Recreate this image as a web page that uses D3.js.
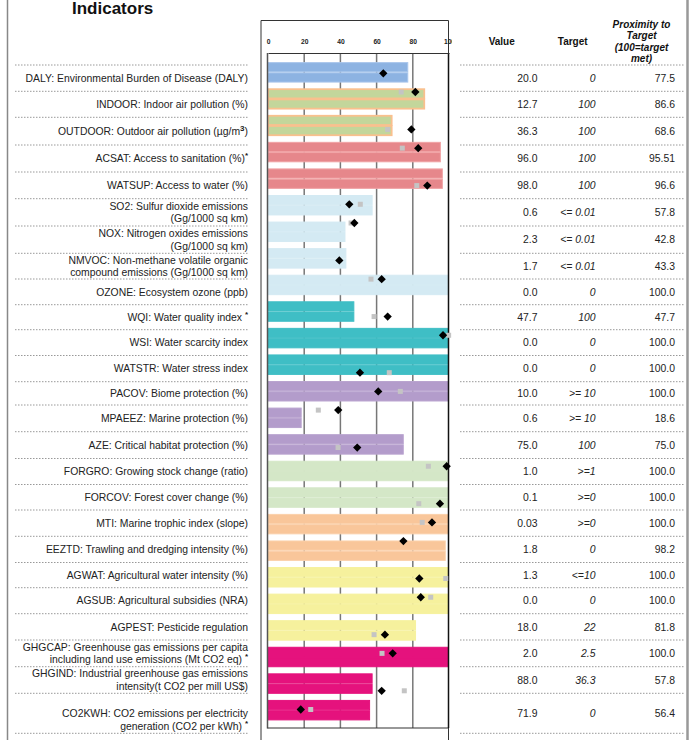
<!DOCTYPE html>
<html><head><meta charset="utf-8">
<script src="https://cdn.jsdelivr.net/npm/d3@7"></script>
<style>
body{margin:0;background:#fff;}
svg{display:block;font-family:"Liberation Sans",Arial,sans-serif;}
</style>
</head><body>
<svg id="c" width="689" height="740"></svg>
<script>
// ---------- DATA ----------
const codes = ["DALY","INDOOR","OUTDOOR","ACSAT","WATSUP","SO2","NOX","NMVOC","OZONE","WQI","WSI","WATSTR","PACOV","MPAEEZ","AZE","FORGRO","FORCOV","MTI","EEZTD","AGWAT","AGSUB","AGPEST","GHGCAP","GHGIND","CO2KWH"];
const labels = [
  ["DALY: Environmental Burden of Disease (DALY)"],
  ["INDOOR: Indoor air pollution (%)"],
  ["OUTDOOR: Outdoor air pollution (µg/m{3})"],
  ["ACSAT: Access to sanitation (%){*}"],
  ["WATSUP: Access to water (%)"],
  ["SO2: Sulfur dioxide emissions","(Gg/1000 sq km)"],
  ["NOX: Nitrogen oxides emissions","(Gg/1000 sq km)"],
  ["NMVOC: Non-methane volatile organic","compound emissions (Gg/1000 sq km)"],
  ["OZONE: Ecosystem ozone (ppb)"],
  ["WQI: Water quality index {*}"],
  ["WSI: Water scarcity index"],
  ["WATSTR: Water stress index"],
  ["PACOV: Biome protection (%)"],
  ["MPAEEZ: Marine protection (%)"],
  ["AZE: Critical habitat protection (%)"],
  ["FORGRO: Growing stock change (ratio)"],
  ["FORCOV: Forest cover change (%)"],
  ["MTI: Marine trophic index (slope)"],
  ["EEZTD: Trawling and dredging intensity (%)"],
  ["AGWAT: Agricultural water intensity (%)"],
  ["AGSUB: Agricultural subsidies (NRA)"],
  ["AGPEST: Pesticide regulation"],
  ["GHGCAP: Greenhouse gas emissions per capita","including land use emissions (Mt CO2 eq) {*}"],
  ["GHGIND: Industrial greenhouse gas emissions","intensity(t CO2 per mill US$)"],
  ["","CO2KWH: CO2 emissions per electricity","generation (CO2 per kWh) {*}"]
];
const groups = ["health","airHealth","airHealth","waterHealth","waterHealth","airEco","airEco","airEco","airEco","waterEco","waterEco","waterEco","bio","bio","bio","forest","forest","fish","fish","agri","agri","agri","climate","climate","climate"];
const proximity = [77.5,86.6,68.6,95.51,96.6,57.8,42.8,43.3,100,47.7,100,100,100,18.6,75.0,100,100,100,98.2,100,100,81.8,100,57.8,56.4];
const proximityLabels = ["77.5","86.6","68.6","95.51","96.6","57.8","42.8","43.3","100.0","47.7","100.0","100.0","100.0","18.6","75.0","100.0","100.0","100.0","98.2","100.0","100.0","81.8","100.0","57.8","56.4"];
const valueLabels = ["20.0","12.7","36.3","96.0","98.0","0.6","2.3","1.7","0.0","47.7","0.0","0.0","10.0","0.6","75.0","1.0","0.1","0.03","1.8","1.3","0.0","18.0","2.0","88.0","71.9"];
const targetLabels = ["0","100","100","100","100","<= 0.01","<= 0.01","<= 0.01","0","100","0","0",">= 10",">= 10","100",">=1",">=0",">=0","0","<=10","0","22","2.5","36.3","0"];
const diamondValues = [63.7,81.4,79.2,83.0,88.0,44.9,47.7,39.4,62.8,66.1,96.7,50.8,60.9,38.8,49.3,98.7,95.0,90.6,74.8,83.6,84.4,64.6,68.9,62.8,18.1];
const squareValues = [null,73.6,66.1,74.2,82.2,51.0,45.9,null,56.9,58.6,99.8,67.0,73.1,27.8,38.7,88.6,83.3,85.2,null,98.2,89.9,58.6,63.0,75.3,23.6];
const markerSlots = [0,1,3,4,6,7,8,10,11,13,14,16,17,18,20,21,23,24,25,27,28,30,31,33,34];
const tickValues = [0,20,40,60,80,100];
const headers = ["Value","Target"];
const proxHeader = ["Proximity to","Target","(100=target","met)"];

// ---------- LAYOUT / STYLE ----------
const rowBreaks = [65,91.3,117.3,145,172,198.7,226,253.3,279,304.7,329.7,355.5,381.7,405,431.7,458.5,484.5,510,536.3,562.5,587.7,613.7,640,666.7,693.3,733.3];
const groupFill = {health:"#8db3e2",airHealth:"#c3d69b",waterHealth:"#e6878b",airEco:"#d4eaf3",waterEco:"#3fbec5",bio:"#b39ccb",forest:"#d4e7c7",fish:"#f9c69a",agri:"#f6f19d",climate:"#e5127d"};
const groupStroke = {health:"#a8c5eb",airHealth:"#f9c08e",waterHealth:"#f0a2a4",airEco:"#d4eaf3",waterEco:"#3fbec5",bio:"#b9a3cf",forest:"#d4e7c7",fish:"#fbd1ab",agri:"#f6f19d",climate:"#e5127d"};
const groupStrokeW = {airHealth:1.8};
const fillScale = d3.scaleOrdinal().domain(Object.keys(groupFill)).range(Object.values(groupFill));
const strokeScale = d3.scaleOrdinal().domain(Object.keys(groupStroke)).range(Object.values(groupStroke));

const svg = d3.select("#c");
const textCol = "#222";

const x = d3.scaleLinear().domain([0,100]).range([268,449]);
const y = d3.scaleBand().domain(codes).range([56,726.5]).padding(0.23);
const ym = d3.scaleLinear().domain([0,34]).range([73.3,709.5]);

// outer frame lines
svg.append("line").attr("x1",7.5).attr("x2",7.5).attr("y1",0).attr("y2",740).attr("stroke","#888").attr("stroke-width",1.5);
svg.append("line").attr("x1",687.5).attr("x2",687.5).attr("y1",0).attr("y2",740).attr("stroke","#999").attr("stroke-width",2.5);

// title
svg.append("text").attr("x",72).attr("y",14).attr("font-size",17).attr("font-weight","bold").attr("fill","#111").text("Indicators");

// chart frame
svg.append("path").attr("d","M261,745V20.5H448.5V745").attr("fill","none").attr("stroke","#333").attr("stroke-width",1);

svg.append("defs").append("clipPath").attr("id","fclip").append("rect").attr("x",261).attr("y",-60).attr("width",191).attr("height",800);

// gridlines
svg.append("g").selectAll("line").data(tickValues.filter(t=>t>0&&t<100)).join("line")
  .attr("x1",d=>x(d)).attr("x2",d=>x(d)).attr("y1",53).attr("y2",728)
  .attr("stroke","#777").attr("stroke-width",1.5);

// bars (two halves each)
const bars = svg.append("g");
codes.forEach((c,i)=>{
  const g = groups[i];
  const bw = y.bandwidth();
  [0,1].forEach(h=>{
    bars.append("rect")
      .attr("x",x(0)).attr("y",y(c)+h*bw/2+0.5)
      .attr("width",Math.max(0,x(proximity[i])-x(0)-0.5)).attr("height",bw/2-1)
      .attr("fill",fillScale(g)).attr("stroke",strokeScale(g))
      .attr("stroke-width",groupStrokeW[g]||1);
  });
});

// axes
svg.append("line").attr("x1",267.5).attr("x2",267.5).attr("y1",53).attr("y2",728.5).attr("stroke","#555").attr("stroke-width",1.5);
svg.append("line").attr("x1",267.5).attr("x2",448.5).attr("y1",728).attr("y2",728).attr("stroke","#333").attr("stroke-width",1.2);
svg.append("line").attr("x1",448.5).attr("x2",448.5).attr("y1",53).attr("y2",728).attr("stroke","#111").attr("stroke-width",1.5);
const axisTop = d3.axisTop(x).tickValues(tickValues).tickSize(0).tickPadding(9);
const ax = svg.append("g").attr("transform","translate(0,53)").call(axisTop).attr("clip-path","url(#fclip)");
ax.select(".domain").attr("stroke","#333").attr("stroke-width",1.2);
ax.selectAll("text").attr("font-size",6.7).attr("font-weight","bold").attr("fill","#222").attr("font-family","Liberation Sans, Arial, sans-serif");

// markers
const mk = svg.append("g");
codes.forEach((c,i)=>{
  if(squareValues[i]!=null){
    mk.append("rect").attr("x",x(squareValues[i])-2.5).attr("y",ym(markerSlots[i])-2.5)
      .attr("width",5).attr("height",5).attr("fill","#c4c4c4");
  }
});
codes.forEach((c,i)=>{
  const cx = x(diamondValues[i]), cy = ym(markerSlots[i]);
  mk.append("path").attr("d",d3.symbol().type(d3.symbolDiamond2).size(44)())
    .attr("transform",`translate(${cx},${cy})`).attr("fill","#000");
});

// separators
const sep = svg.append("g").attr("stroke","#999").attr("stroke-width",1).attr("stroke-dasharray","1.5,1.5");
rowBreaks.forEach(b=>{
  sep.append("line").attr("x1",15).attr("x2",249).attr("y1",b).attr("y2",b);
  sep.append("line").attr("x1",460).attr("x2",685).attr("y1",b).attr("y2",b);
});

// label renderer with {sup}
function addRich(textSel, str){
  const parts = str.split(/(\{[^}]*\})/).filter(s=>s.length);
  parts.forEach(p=>{
    if(p.startsWith("{")){
      textSel.append("tspan").attr("baseline-shift","super").attr("font-size",8).attr("font-weight","bold").text(p.slice(1,-1));
    } else {
      textSel.append("tspan").text(p);
    }
  });
}

const fs = 10.4, lh = 13;
codes.forEach((c,i)=>{
  const mid = (rowBreaks[i]+rowBreaks[i+1])/2;
  const lines = labels[i];
  lines.forEach((ln,j)=>{
    const cy = mid + (j-(lines.length-1)/2)*(lines.length===2?12.6:lh);
    const t = svg.append("text").attr("x",248).attr("y",cy+3.7).attr("text-anchor","end")
      .attr("font-size",fs).attr("fill",textCol);
    addRich(t, ln);
  });
  svg.append("text").attr("x",537.5).attr("y",mid+3.7).attr("text-anchor","end").attr("font-size",fs).attr("fill",textCol).text(valueLabels[i]);
  svg.append("text").attr("x",595.5).attr("y",mid+3.7).attr("text-anchor","end").attr("font-size",fs).attr("font-style","italic").attr("fill",textCol).text(targetLabels[i]);
  svg.append("text").attr("x",675).attr("y",mid+3.7).attr("text-anchor","end").attr("font-size",fs).attr("fill",textCol).text(proximityLabels[i]);
});

// headers
const hx = [501.7,572.7];
headers.forEach((h,i)=>{
  svg.append("text").attr("x",hx[i]).attr("y",45).attr("text-anchor","middle").attr("font-size",10).attr("font-weight","bold").attr("fill","#111").text(h);
});
proxHeader.forEach((h,i)=>{
  svg.append("text").attr("x",641.5).attr("y",27.5+i*11.5).attr("text-anchor","middle").attr("font-size",10)
    .attr("font-weight","bold").attr("font-style","italic").attr("fill","#111").text(h);
});
</script>
</body></html>
